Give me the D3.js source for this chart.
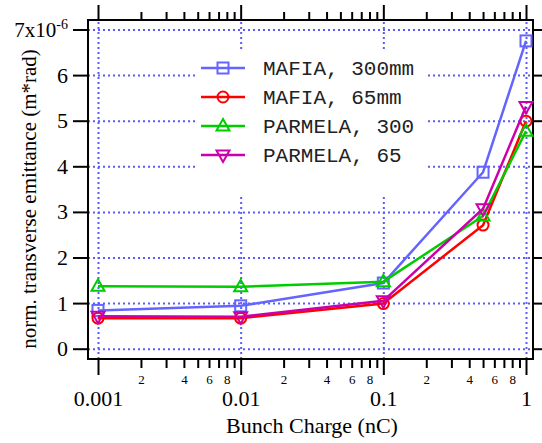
<!DOCTYPE html>
<html lang="en">
<head>
    <meta charset="UTF-8">
    <title>Emittance vs Bunch Charge</title>
    <script src="https://d3js.org/d3.v7.min.js"></script>
    <style>
        body { margin: 0; background: #fff; }
        svg text { font-family: "Liberation Serif", "DejaVu Serif", Times, serif; fill: #000; }
        svg text.mono { font-family: "Liberation Mono", "DejaVu Sans Mono", Courier, monospace; }
    </style>
</head>
<body>
    <div id="chart"></div>

    <script>
        // Bunch charge (nC) where each run was done
        const charges = [0.001, 0.01, 0.1, 0.5, 1];

        // emittance in units of 1e-6 m*rad
        const mafia300 = [0.84, 0.94, 1.44, 3.87, 6.75];
        const mafia65 = [0.67, 0.67, 0.99, 2.71, 4.99];
        const parmela300 = [1.37, 1.36, 1.47, 2.91, 4.77];
        const parmela65 = [0.71, 0.70, 1.05, 3.07, 5.31];

        const seriesNames = ["MAFIA, 300mm", "MAFIA, 65mm", "PARMELA, 300", "PARMELA, 65"];
        const seriesValues = [mafia300, mafia65, parmela300, parmela65];
        const seriesColors = ["#6464ff", "#ff0000", "#00cc00", "#cc00aa"];
        const seriesMarkers = ["square", "circle", "triangleUp", "triangleDown"];

        const xMajorTicks = [0.001, 0.01, 0.1, 1];
        const xMinorMult = [2, 3, 4, 5, 6, 7, 8, 9];
        const xMinorLabels = [2, 4, 6, 8];
        const yTicks = [0, 1, 2, 3, 4, 5, 6, 7];

        const W = 542, H = 443;
        const frame = { left: 88, right: 533, top: 20, bottom: 359 };

        const svg = d3.select("#chart")
            .append("svg")
            .attr("width", W)
            .attr("height", H);

        const x = d3.scaleLog()
            .domain([0.001, 1])
            .range([98, 526]);

        const y = d3.scaleLinear()
            .domain([0, 7])
            .range([348.7, 29.5]);

        const xMinorTicks = [];
        xMajorTicks.slice(0, -1).forEach(d => xMinorMult.forEach(m => xMinorTicks.push(d * m)));

        // grid lines (dotted blue)
        const gridX = svg.append("g")
            .attr("transform", `translate(0,${frame.bottom})`)
            .call(d3.axisBottom(x).tickValues(xMajorTicks).tickSize(-(frame.bottom - frame.top)).tickFormat(""));
        const gridY = svg.append("g")
            .attr("transform", `translate(${frame.left},0)`)
            .call(d3.axisLeft(y).tickValues(yTicks).tickSize(-(frame.right - frame.left)).tickFormat(""));
        [gridX, gridY].forEach(g => {
            g.select(".domain").remove();
            g.selectAll("line")
                .attr("stroke", "#5a5aff")
                .attr("stroke-width", 2)
                .attr("stroke-dasharray", "2,3");
        });

        // legend background hides grid
        svg.append("rect")
            .attr("x", 195).attr("y", 52)
            .attr("width", 233).attr("height", 144)
            .attr("fill", "#fff");

        // frame
        svg.append("rect")
            .attr("x", frame.left).attr("y", frame.top)
            .attr("width", frame.right - frame.left)
            .attr("height", frame.bottom - frame.top)
            .attr("fill", "none")
            .attr("stroke", "#000")
            .attr("stroke-width", 2);

        function styleAxis(g) {
            g.attr("font-family", null);
            g.select(".domain").remove();
            g.selectAll("line").attr("stroke", "#000").attr("stroke-width", 2);
        }

        // bottom axis: majors, minors
        svg.append("g")
            .attr("transform", `translate(0,${frame.bottom})`)
            .call(d3.axisBottom(x).tickValues(xMajorTicks).tickSize(16).tickPadding(0)
                .tickFormat(d => d >= 1 ? "1" : String(d)))
            .call(styleAxis)
            .call(g => g.selectAll("text").attr("font-size", 22).attr("y", 47).attr("dy", null));

        svg.append("g")
            .attr("transform", `translate(0,${frame.bottom})`)
            .call(d3.axisBottom(x).tickValues(xMinorTicks).tickSize(9).tickPadding(0)
                .tickFormat(d => {
                    const m = Math.round(d / Math.pow(10, Math.floor(Math.log10(d) + 1e-9)));
                    return xMinorLabels.includes(m) ? String(m) : "";
                }))
            .call(styleAxis)
            .call(g => g.selectAll("text").attr("font-size", 13).attr("y", 25).attr("dy", null));

        // top axis (ticks only)
        svg.append("g")
            .attr("transform", `translate(0,${frame.top})`)
            .call(d3.axisTop(x).tickValues(xMajorTicks).tickSize(15).tickFormat(""))
            .call(styleAxis);
        svg.append("g")
            .attr("transform", `translate(0,${frame.top})`)
            .call(d3.axisTop(x).tickValues(xMinorTicks).tickSize(8).tickFormat(""))
            .call(styleAxis);

        // left axis
        svg.append("g")
            .attr("transform", `translate(${frame.left},0)`)
            .call(d3.axisLeft(y).tickValues(yTicks).tickSize(15).tickPadding(5).tickFormat(d => d === 7 ? "" : String(d)))
            .call(styleAxis)
            .call(g => g.selectAll("text").attr("font-size", 22));

        // top label 7x10^-6
        const topLabel = svg.append("text")
            .attr("x", frame.left - 20)
            .attr("y", y(7))
            .attr("dy", "0.35em")
            .attr("text-anchor", "end")
            .attr("font-size", 21);
        topLabel.append("tspan").text("7x10");
        topLabel.append("tspan").attr("font-size", 14).attr("dy", "-0.55em").text("-6");

        // right axis (ticks only)
        svg.append("g")
            .attr("transform", `translate(${frame.right},0)`)
            .call(d3.axisRight(y).tickValues(yTicks).tickSize(9).tickFormat(""))
            .call(styleAxis);

        // axis titles
        svg.append("text")
            .attr("x", 312)
            .attr("y", 433)
            .attr("text-anchor", "middle")
            .attr("font-size", 22)
            .text("Bunch Charge (nC)");

        svg.append("text")
            .attr("transform", "translate(36,199) rotate(-90)")
            .attr("text-anchor", "middle")
            .attr("font-size", 21)
            .text("norm. transverse emittance (m*rad)");

        // markers
        function drawMarker(g, type, cx, cy, color) {
            if (type === "square") {
                g.append("rect").attr("x", cx - 5.5).attr("y", cy - 5.5).attr("width", 11).attr("height", 11)
                    .attr("fill", "none").attr("stroke", color).attr("stroke-width", 2);
            } else if (type === "circle") {
                g.append("circle").attr("cx", cx).attr("cy", cy).attr("r", 5.5)
                    .attr("fill", "none").attr("stroke", color).attr("stroke-width", 2);
            } else if (type === "triangleUp") {
                g.append("path").attr("d", `M${cx},${cy - 7}L${cx + 6.5},${cy + 4.5}L${cx - 6.5},${cy + 4.5}Z`)
                    .attr("fill", "none").attr("stroke", color).attr("stroke-width", 2);
            } else {
                g.append("path").attr("d", `M${cx},${cy + 7}L${cx + 6.5},${cy - 4.5}L${cx - 6.5},${cy - 4.5}Z`)
                    .attr("fill", "none").attr("stroke", color).attr("stroke-width", 2);
            }
        }

        const line = d3.line()
            .x((d, i) => x(charges[i]))
            .y(d => y(d));

        seriesValues.forEach((vals, s) => {
            const g = svg.append("g");
            g.append("path")
                .datum(vals)
                .attr("fill", "none")
                .attr("stroke", seriesColors[s])
                .attr("stroke-width", 2.5)
                .attr("d", line);
            vals.forEach((v, i) => drawMarker(g, seriesMarkers[s], x(charges[i]), y(v), seriesColors[s]));
        });

        // legend
        const legend = svg.append("g");
        seriesNames.forEach((name, s) => {
            const cy = 68 + s * 29;
            legend.append("line")
                .attr("x1", 201).attr("x2", 245)
                .attr("y1", cy).attr("y2", cy)
                .attr("stroke", seriesColors[s]).attr("stroke-width", 2.5);
            drawMarker(legend, seriesMarkers[s], 223, cy, seriesColors[s]);
            legend.append("text")
                .attr("class", "mono")
                .attr("x", 263)
                .attr("y", cy)
                .attr("dy", "0.35em")
                .attr("font-size", 21)
                .style("fill", "#222")
                .text(name);
        });
    </script>
</body>
</html>
